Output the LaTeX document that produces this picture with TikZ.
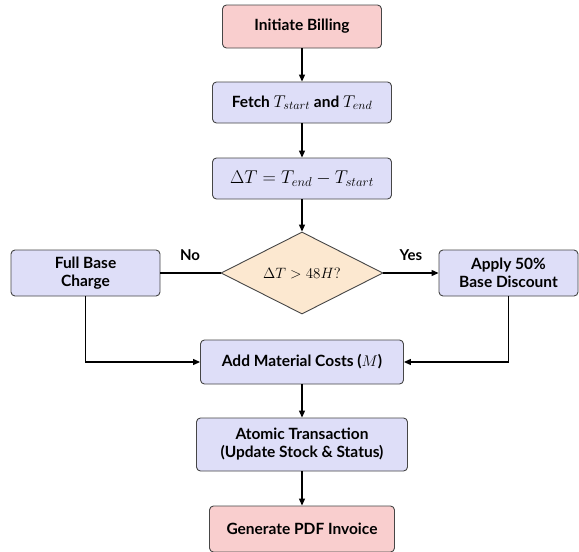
\RequirePackage{fix-cm}
\documentclass[tikz,border=0pt]{standalone}
\usepackage{fontspec}
\setsansfont{Lato}
\usetikzlibrary{shapes.geometric,arrows.meta}
\definecolor{redfill}{RGB}{249,206,206}
\definecolor{bluefill}{RGB}{222,222,248}
\definecolor{diafill}{RGB}{252,232,208}
\definecolor{edge}{RGB}{70,70,70}
\newcommand{\mybigmath}[1]{{\fontsize{17}{18}\selectfont$#1$}}
\begin{document}
\begin{tikzpicture}[x=1pt,y=-1pt,
  base/.style={draw=edge,line width=0.9pt,rounded corners=4pt,align=center,
    font=\sffamily\bfseries\fontsize{15.5}{18}\selectfont,inner sep=2pt},
  termbox/.style={base,fill=redfill},
  procbox/.style={base,fill=bluefill},
  decbox/.style={diamond,draw=edge,line width=0.9pt,fill=diafill,aspect=2,inner sep=0pt,
    font=\fontsize{15}{18}\selectfont},
  conn/.style={line width=1.2pt,black},
  arr/.style={conn,-{Triangle[length=7pt,width=6pt]}},
  lbl/.style={font=\sffamily\bfseries\fontsize{15}{18}\selectfont}]
\useasboundingbox[fill=white] (0,0) rectangle (579,552);
\node[termbox,minimum width=159pt,minimum height=43pt] (start) at (302,26.5) {Initiate Billing};
\node[procbox,minimum width=179pt,minimum height=41pt] (fetch) at (302,102.5) {Fetch \mybigmath{T_{start}} and \mybigmath{T_{end}}};
\node[procbox,minimum width=179pt,minimum height=41pt,font=\fontsize{18.5}{20}\selectfont] (delta) at (302,178.5) {$\Delta T = T_{end} - T_{start}$};
\node[decbox,minimum width=162pt,minimum height=82pt] (dec) at (302,273) {$\Delta T > 48H?$};
\node[procbox,minimum width=149pt,minimum height=46pt] (full) at (85.5,273) {Full Base\\Charge};
\node[procbox,minimum width=139pt,minimum height=46pt] (disc) at (508.5,273) {Apply 50\%\\Base Discount};
\node[procbox,minimum width=203pt,minimum height=44pt] (mat) at (302,362) {Add Material Costs ($M$)};
\node[procbox,minimum width=211pt,minimum height=53pt] (atom) at (302,444.5) {Atomic Transaction\\(Update Stock \& Status)};
\node[termbox,minimum width=185pt,minimum height=46pt] (gen) at (302,529) {Generate PDF Invoice};
\draw[arr] (start) -- (fetch);
\draw[arr] (fetch) -- (delta);
\draw[arr] (delta) -- (dec);
\draw[conn] (dec.west) -- (full.east);
\draw[arr] (dec.east) -- (disc.west);
\node[lbl] (no) at (190,255) {No};
\node[lbl] (yes) at (411,255) {Yes};
\draw[arr] (full.south) |- (mat.west);
\draw[arr] (disc.south) |- (mat.east);
\draw[arr] (mat) -- (atom);
\draw[arr] (atom) -- (gen);
\end{tikzpicture}
\end{document}
